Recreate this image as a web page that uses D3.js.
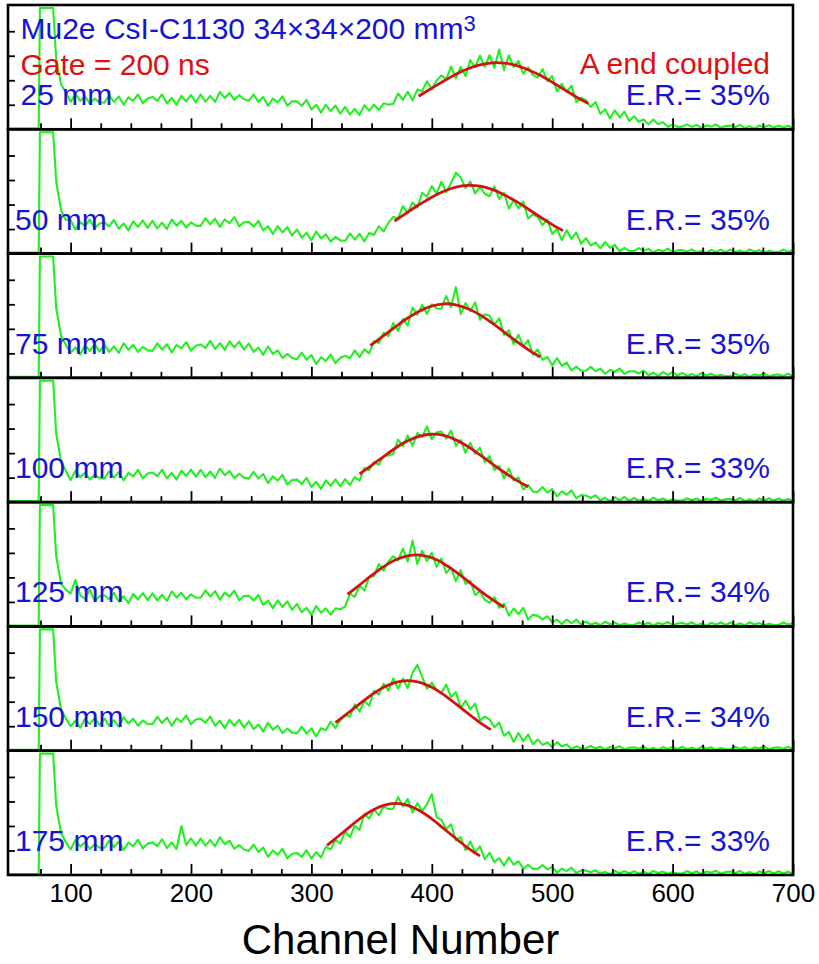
<!DOCTYPE html>
<html><head><meta charset="utf-8">
<script src="https://cdn.jsdelivr.net/npm/d3@7"></script>
<style>body{margin:0;background:#fff}svg{display:block}</style>
</head><body>
<script>
// ---------- data ----------
const positions = ["25 mm","50 mm","75 mm","100 mm","125 mm","150 mm","175 mm"];
const resolutions = ["E.R.= 35%","E.R.= 35%","E.R.= 35%","E.R.= 33%","E.R.= 34%","E.R.= 34%","E.R.= 33%"];
const xMajorTicks = [100,200,300,400,500,600,700];
const xMinorTicks = [75,125,150,175,225,250,275,325,350,375,425,450,475,525,550,575,625,650,675];
const yTicks = [100,200,300,400];

// pedestal spike (clipped at the top of each panel)
const spikeCh = [48,73.5,74.5,85.5];
const spikeVal = [4,4,495,495];

// spectrum: channels 88..700, step 4
const chStart = 88, chStep = 4;
const counts25 = [
290,185,150,112,144,116,134,105,125,110,
108,138,112,134,100,130,116,142,106,126,
132,116,142,106,128,100,136,114,140,110,
142,113,136,112,152,128,148,120,139,123,
116,142,112,132,96,125,110,134,96,114,
114,96,120,81,100,68,100,74,97,64,
91,61,83,58,98,76,100,79,106,100,
104,146,120,153,118,162,155,196,163,199,
220,204,256,208,254,217,282,253,300,255,
302,251,325,241,302,254,279,226,253,221,
211,246,196,217,154,186,152,178,111,129,
119,91,111,63,81,44,77,48,72,34,
53,31,40,20,40,21,29,10,20,10,
11,20,10,18,5,16,11,20,6,13,
15,9,18,5,13,3,16,8,17,7,
15,7,14,5];
const counts50 = [
295,178,138,136,98,127,113,139,103,123,
127,111,137,101,123,95,131,109,135,105,
133,103,126,100,139,114,133,106,127,114,
113,144,119,142,109,139,124,149,111,128,
129,110,133,94,112,80,112,86,108,74,
98,65,84,55,90,62,78,49,68,54,
52,82,57,81,50,84,76,112,90,126,
149,144,194,164,209,187,248,232,275,245,
293,250,288,330,310,267,294,245,272,244,
234,274,223,248,183,219,184,212,142,160,
150,116,138,80,100,55,95,60,86,40,
63,33,45,21,47,23,35,9,23,10,
11,22,11,19,4,16,9,20,5,13,
14,8,17,4,12,2,15,7,16,6,
16,5,13,4,17,8,14,4,11,7,
6,16,7,15];
const counts75 = [
285,172,135,102,124,96,132,110,137,107,
135,106,128,102,141,115,134,106,126,112,
110,141,115,137,104,134,120,146,111,131,
136,122,151,118,142,114,149,125,148,115,
140,106,124,94,128,98,112,81,98,81,
76,103,74,93,56,84,69,95,60,82,
90,80,112,84,116,100,150,142,184,170,
224,191,241,213,287,257,297,261,300,283,
282,334,288,370,260,305,273,308,237,260,
253,217,243,175,194,137,176,129,154,95,
116,74,85,50,81,49,62,30,46,29,
29,45,27,38,17,33,24,38,16,27,
27,18,30,11,21,7,24,12,24,9,
20,8,16,6,20,10,17,6,13,7,
7,17,8,15,4,14,10,18,6,12,
14,8,17,5];
const counts100 = [
280,168,128,90,128,102,120,92,112,98,
96,126,100,122,89,119,105,132,96,117,
121,106,132,97,119,92,128,107,133,104,
132,102,125,99,137,110,127,98,116,100,
96,124,96,115,78,105,88,111,72,90,
92,74,99,62,83,54,89,67,93,64,
94,70,102,88,140,130,164,152,188,190,
196,255,228,272,230,282,266,309,256,285,
288,259,292,230,254,201,243,197,222,163,
188,131,148,97,137,88,101,51,70,43,
42,62,39,53,23,44,30,48,16,29,
27,17,28,8,18,3,20,8,21,5,
17,5,14,4,18,8,15,5,12,7,
6,16,8,15,4,14,10,18,6,12,
14,8,17,4,12,2,15,7,16,6,
15,6,13,4];
const counts125 = [
288,175,150,134,190,127,113,150,103,123,
127,111,137,101,123,95,132,110,136,107,
135,106,129,104,143,118,137,110,131,118,
117,147,122,144,109,138,122,146,107,124,
125,106,128,88,106,74,106,80,102,68,
92,58,76,47,83,56,74,48,74,70,
81,134,120,167,146,202,205,254,227,265,
286,269,318,264,350,255,308,267,301,243,
278,218,240,184,230,173,187,127,144,108,
96,119,76,93,44,73,50,76,28,48,
43,29,42,17,28,9,28,13,28,8,
20,7,15,5,19,9,16,5,12,6,
6,16,7,15,3,14,9,18,5,12,
14,8,17,4,12,2,15,7,16,6,
16,5,13,4,17,8,14,4,11,7,
6,16,7,14];
const counts150 = [
282,170,132,100,122,94,130,108,134,104,
132,102,124,98,137,111,130,102,123,109,
108,138,113,135,102,132,118,144,108,127,
131,114,139,102,122,92,126,102,126,94,
120,88,107,78,114,86,102,72,90,74,
70,98,70,91,58,92,84,118,92,124,
145,139,189,159,204,183,244,229,274,245,
295,254,294,255,318,350,301,252,278,248,
236,270,219,239,174,204,168,192,123,139,
128,96,115,61,77,36,72,39,66,26,
46,24,34,15,35,17,26,7,18,9,
10,19,9,17,4,15,10,18,5,12,
14,8,17,4,12,2,15,7,16,6,
16,5,13,4,17,8,14,4,11,7,
6,16,7,15,3,14,9,18,5,12,
14,7,16,5];
const counts175 = [
285,172,134,104,142,116,134,106,126,112,
110,140,114,136,102,132,118,144,108,128,
133,118,145,110,133,106,200,122,149,120,
149,120,143,117,154,126,140,107,122,104,
98,124,94,112,74,100,83,106,68,87,
90,74,101,67,93,71,115,104,143,128,
177,155,200,184,249,230,268,243,279,269,
270,318,280,311,255,293,262,289,330,236,
225,187,207,141,155,101,137,93,117,65,
90,53,69,38,72,42,56,25,42,25,
25,41,22,33,10,26,16,30,8,19,
18,11,19,6,13,3,16,7,16,6,
16,5,13,4,17,8,14,4,11,7,
6,16,7,15,3,14,9,18,5,12,
14,8,17,4,12,2,15,7,16,6,
15,6,13,5];

// Gaussian fit curves
const fitCh25 = [389,400,410,420,430,440,450,460,470,480,490,500,510,520,530];
const fitVal25 = [135,168,197,225,247,263,271,270,261,243,220,192,162,132,105];
const fitCh50 = [369,380,390,400,410,420,430,440,450,460,470,480,490,500,509];
const fitVal50 = [133,169,201,230,254,271,278,275,262,240,213,182,149,118,93];
const fitCh75 = [349,360,370,380,390,400,410,420,430,440,450,460,470,480,490];
const fitVal75 = [132,172,209,244,273,293,302,298,282,257,224,187,150,115,85];
const fitCh100 = [340,350,360,370,380,390,400,410,420,430,440,450,460,470,480];
const fitVal100 = [115,150,186,221,250,269,277,272,254,227,193,157,122,90,63];
const fitCh125 = [330,340,350,360,370,380,390,400,410,420,430,440,450,460];
const fitVal125 = [131,169,208,244,272,288,291,280,256,223,185,146,110,78];
const fitCh150 = [320,330,340,350,360,370,380,390,400,410,420,430,440,449];
const fitVal150 = [115,152,191,228,259,279,286,279,259,228,191,152,115,86];
const fitCh175 = [313,320,330,340,350,360,370,380,390,400,410,420,430,440];
const fitVal175 = [121,149,189,229,262,284,292,284,262,229,189,149,110,78];

// ---------- layout ----------
const W = 819, H = 964;
const L = 8, R = 793, T = 5, B = 875;
const nP = 7, ph = (B - T) / nP;
const yMax = 507;
const FONT = "'Liberation Sans', Arial, Helvetica, sans-serif";
const GREEN = "#22ee22", RED = "#d01414", BLUE = "#1414d2", TRED = "#e01010";

const panels = [
  {label: positions[0], er: resolutions[0], counts: counts25,  fc: fitCh25,  fv: fitVal25},
  {label: positions[1], er: resolutions[1], counts: counts50,  fc: fitCh50,  fv: fitVal50},
  {label: positions[2], er: resolutions[2], counts: counts75,  fc: fitCh75,  fv: fitVal75},
  {label: positions[3], er: resolutions[3], counts: counts100, fc: fitCh100, fv: fitVal100},
  {label: positions[4], er: resolutions[4], counts: counts125, fc: fitCh125, fv: fitVal125},
  {label: positions[5], er: resolutions[5], counts: counts150, fc: fitCh150, fv: fitVal150},
  {label: positions[6], er: resolutions[6], counts: counts175, fc: fitCh175, fv: fitVal175}
];

const svg = d3.select("body").append("svg").attr("width", W).attr("height", H)
  .style("font-family", FONT);
const x = d3.scaleLinear().domain([48, 700]).range([L, R]);

panels.forEach((p, i) => {
  const y0 = T + i * ph, y1 = y0 + ph;
  const y = d3.scaleLinear().domain([0, yMax]).range([y1, y0]);
  const g = svg.append("g");
  const cid = "clip" + i;
  svg.append("clipPath").attr("id", cid).append("rect")
    .attr("x", L).attr("y", y0).attr("width", R - L).attr("height", ph);

  const pts = spikeCh.map((c, k) => [c, spikeVal[k]])
    .concat(p.counts.map((v, k) => [chStart + k * chStep, v]));
  const line = d3.line().x(d => x(d[0])).y(d => y(d[1]));
  g.append("path").datum(pts).attr("clip-path", `url(#${cid})`)
    .attr("d", line).attr("fill", "none").attr("stroke", GREEN)
    .attr("stroke-width", 2.1).attr("stroke-linejoin", "round");

  const fit = p.fc.map((c, k) => [c, p.fv[k]]);
  g.append("path").datum(fit)
    .attr("d", d3.line().x(d => x(d[0])).y(d => y(d[1])).curve(d3.curveCatmullRom))
    .attr("fill", "none").attr("stroke", RED).attr("stroke-width", 2.8);

  // ticks (inward)
  const last = i === nP - 1;
  const axMinor = d3.axisBottom(x).tickValues(xMinorTicks).tickSize(-6).tickFormat("");
  const axMajor = d3.axisBottom(x).tickValues(xMajorTicks).tickSize(-11)
    .tickPadding(9).tickFormat(last ? d3.format("d") : "");
  const gm = g.append("g").attr("transform", `translate(0,${y1})`).call(axMinor);
  const gM = g.append("g").attr("transform", `translate(0,${y1})`).call(axMajor);
  const ay = d3.axisLeft(y).tickValues(yTicks).tickSize(-7).tickFormat("");
  const gy = g.append("g").attr("transform", `translate(${L},0)`).call(ay);
  [gm, gM, gy].forEach(a => {
    a.select(".domain").remove();
    a.selectAll("line").attr("stroke", "#000").attr("stroke-width", 1.8);
  });
  gM.selectAll("text").attr("fill", "#000").style("font-size", "26px")
    .style("font-family", FONT);

  // frame
  g.append("rect").attr("x", L).attr("y", y0).attr("width", R - L).attr("height", ph)
    .attr("fill", "none").attr("stroke", "#000").attr("stroke-width", 2.6);

  // labels
  g.append("text").attr("x", i === 0 ? 20.5 : 15).attr("y", y1 - 24)
    .attr("fill", BLUE).style("font-size", "30px").text(p.label);
  g.append("text").attr("x", 770).attr("y", y1 - 24).attr("text-anchor", "end")
    .attr("fill", BLUE).style("font-size", "30px").text(p.er);
});

// header texts
const title = svg.append("text").attr("x", 20.5).attr("y", 38.5)
  .attr("fill", BLUE).style("font-size", "30px");
title.append("tspan").text("Mu2e CsI-C1130 34\u00d734\u00d7200 mm");
title.append("tspan").attr("dy", -8).style("font-size", "22px").text("3");
svg.append("text").attr("x", 20.5).attr("y", 75).attr("fill", TRED)
  .style("font-size", "30px").text("Gate = 200 ns");
svg.append("text").attr("x", 770).attr("y", 74).attr("text-anchor", "end")
  .attr("fill", TRED).style("font-size", "30px").text("A end coupled");

// axis title
svg.append("text").attr("x", (L + R) / 2).attr("y", 954).attr("text-anchor", "middle")
  .attr("fill", "#000").style("font-size", "42px").text("Channel Number");
</script>
</body></html>
